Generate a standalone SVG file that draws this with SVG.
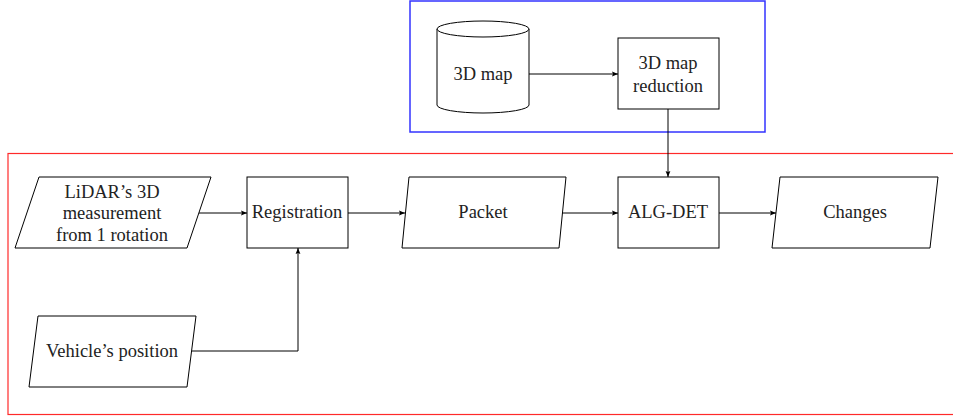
<svg xmlns="http://www.w3.org/2000/svg" width="953" height="419" viewBox="0 0 953 419">
<style>
.shape{fill:#fff;stroke:#000;stroke-width:1}
.lbl{font-size:18.5px;fill:#222;text-anchor:middle;dominant-baseline:central}
.edge{fill:none;stroke:#000;stroke-width:1}
</style>
<defs>
<marker id="arr" markerUnits="userSpaceOnUse" markerWidth="8" markerHeight="8" viewBox="0 0 8 8" refX="6" refY="4" orient="auto">
<path d="M0,1.6 L6,4 L0,6.4 L1,4 Z" fill="#000"/>
</marker>
</defs>
<rect x="410" y="1" width="355" height="131" fill="none" stroke="#3333ff" stroke-width="1.5"/>
<rect x="8" y="153.5" width="960" height="261" fill="none" stroke="#ff2a2a" stroke-width="1.2"/>
<g id="map3d" font-family="Liberation Serif, Times New Roman, DejaVu Serif, serif">
<path class="shape" d="M437,29 L437,105 A46,8 0 0 0 529,105 L529,29"/>
<ellipse class="shape" cx="483" cy="29" rx="46" ry="8"/>
<text class="lbl" x="483" y="74">3D map</text>
</g>
<g id="reduction" font-family="Liberation Serif, Times New Roman, DejaVu Serif, serif">
<rect class="shape" x="618" y="38" width="101" height="71"/>
<text class="lbl" x="668" y="63">3D map</text>
<text class="lbl" x="668" y="86">reduction</text>
</g>
<g id="lidar" font-family="Liberation Serif, Times New Roman, DejaVu Serif, serif">
<polygon class="shape" points="39,177 211,177 187,248 15,248"/>
<text class="lbl" x="112" y="192">LiDAR’s 3D</text>
<text class="lbl" x="112" y="213">measurement</text>
<text class="lbl" x="112" y="235">from 1 rotation</text>
</g>
<g id="registration" font-family="Liberation Serif, Times New Roman, DejaVu Serif, serif">
<rect class="shape" x="247" y="177" width="101" height="71"/>
<text class="lbl" x="297" y="212">Registration</text>
</g>
<g id="packet" font-family="Liberation Serif, Times New Roman, DejaVu Serif, serif">
<polygon class="shape" points="409,177 566,177 559,248 402,248"/>
<text class="lbl" x="483" y="212">Packet</text>
</g>
<g id="algdet" font-family="Liberation Serif, Times New Roman, DejaVu Serif, serif">
<rect class="shape" x="618" y="177" width="101" height="71"/>
<text class="lbl" x="668" y="212">ALG-DET</text>
</g>
<g id="changes" font-family="Liberation Serif, Times New Roman, DejaVu Serif, serif">
<polygon class="shape" points="780,177 938,177 930,248 772,248"/>
<text class="lbl" x="855" y="212">Changes</text>
</g>
<g id="vehicle" font-family="Liberation Serif, Times New Roman, DejaVu Serif, serif">
<polygon class="shape" points="38,316 196,316 187,387 29,387"/>
<text class="lbl" x="112" y="351">Vehicle’s position</text>
</g>
<g id="connectors">
<path class="edge" d="M529,74 H618" marker-end="url(#arr)"/>
<path class="edge" d="M668,109 V177" marker-end="url(#arr)"/>
<path class="edge" d="M199,213 H247" marker-end="url(#arr)"/>
<path class="edge" d="M348,213 H405" marker-end="url(#arr)"/>
<path class="edge" d="M562,213 H618" marker-end="url(#arr)"/>
<path class="edge" d="M719,213 H776" marker-end="url(#arr)"/>
<path class="edge" d="M192,351 H298 V248" marker-end="url(#arr)"/>
</g>
</svg>
